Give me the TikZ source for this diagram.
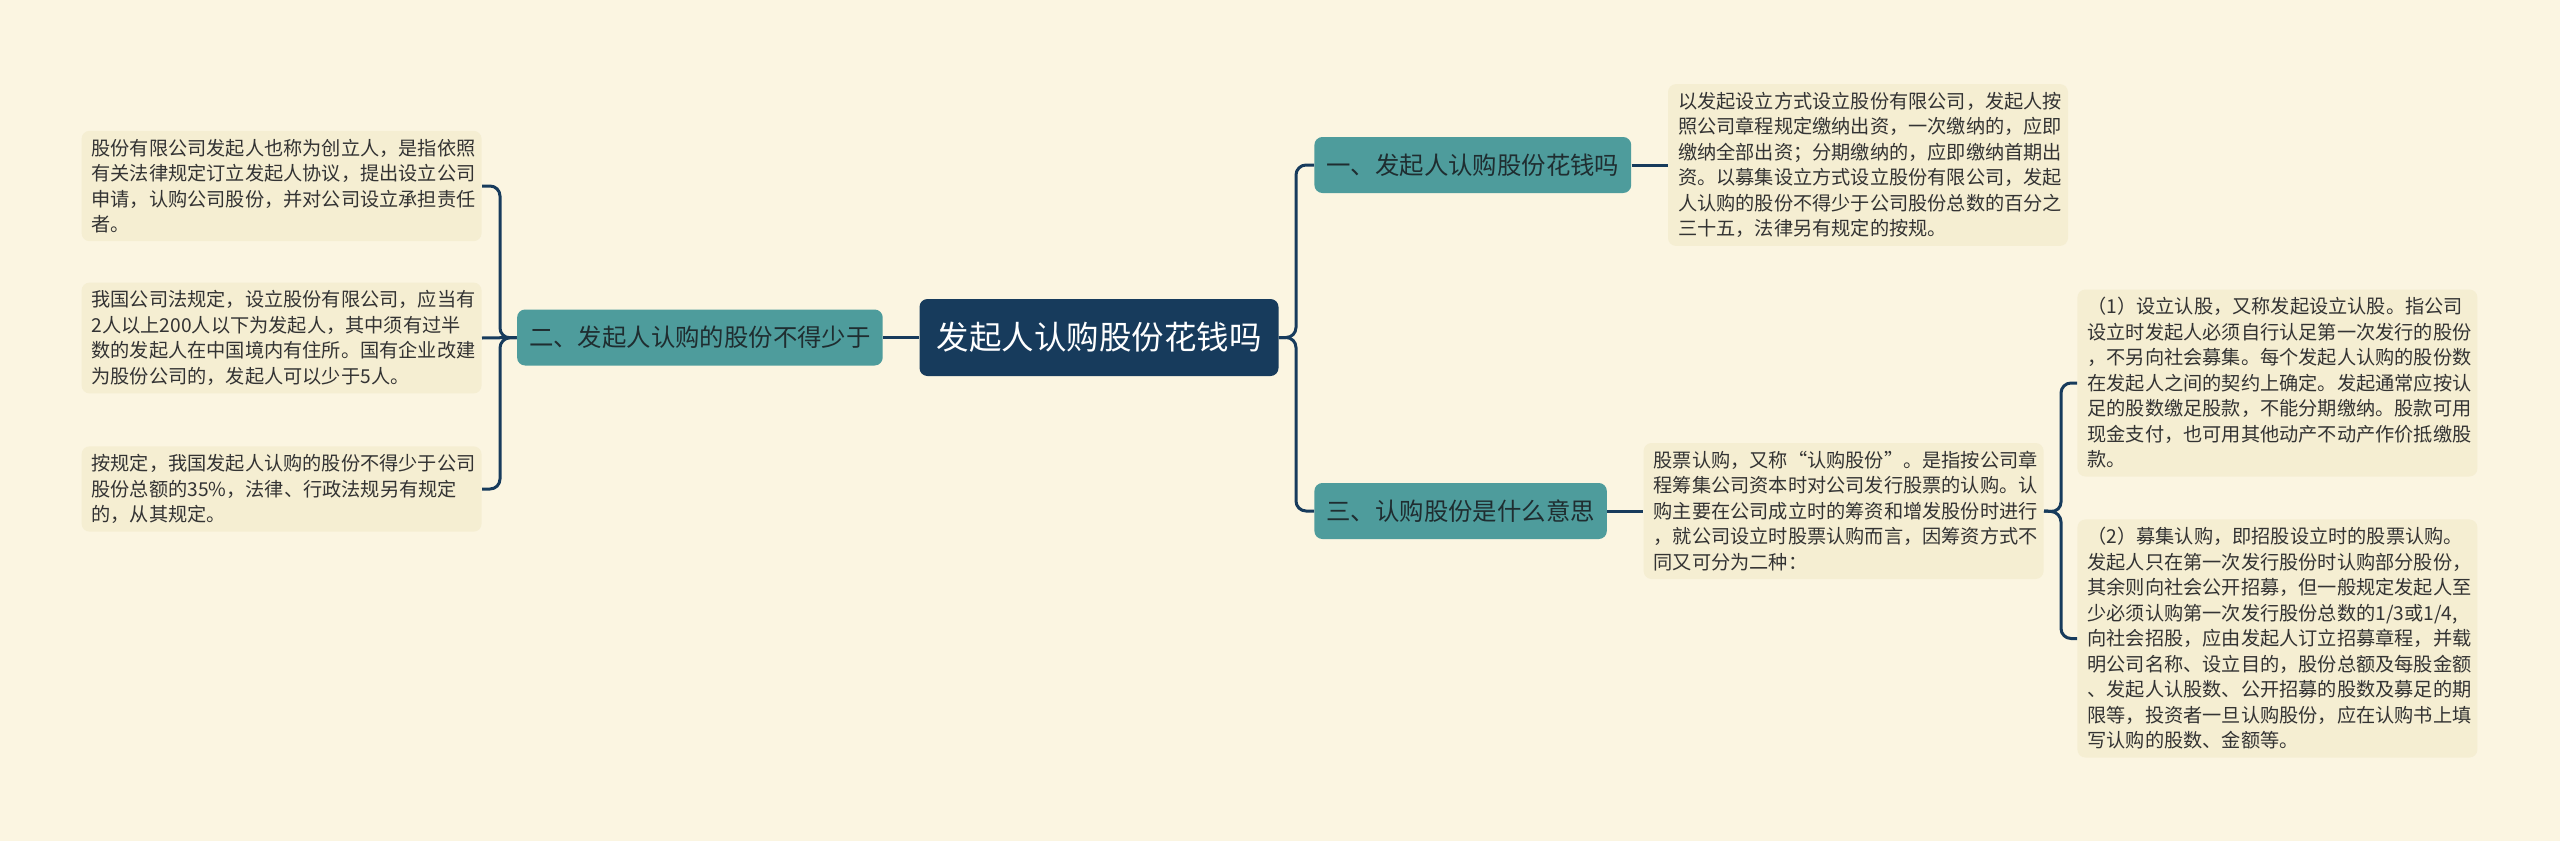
\documentclass[tikz,border=0pt]{standalone}
\usepackage{fontspec}
\setmainfont{Noto Sans CJK SC}
\usepackage{xcolor}
\definecolor{mmbg}{HTML}{FBF5E1}
\definecolor{mmleaf}{HTML}{F5EED2}
\definecolor{mmteal}{HTML}{4E9C9C}
\definecolor{mmnavy}{HTML}{173B5C}
\definecolor{mmink}{HTML}{333333}
\definecolor{mmdark}{HTML}{1F2D30}
\usepackage{tikz}
\usetikzlibrary{positioning}

\begin{document}
\begin{tikzpicture}[x=0.5pt, y=-0.5pt,
  rootnode/.style={fill=mmnavy, text=white, rounded corners=4pt,
                   minimum height=38.5pt, inner xsep=8.5pt,
                   font=\fontsize{16.25pt}{19pt}\selectfont},
  branch/.style={fill=mmteal, text=mmdark, rounded corners=4pt,
                 minimum height=28pt, inner xsep=6pt,
                 font=\fontsize{12.2pt}{15pt}\selectfont},
  leaf/.style={fill=mmleaf, text=mmink, rounded corners=4pt,
               text width=190pt, inner xsep=5pt, inner ysep=4pt, align=left,
               font=\fontsize{9.6pt}{12.75pt}\selectfont},
  conn/.style={draw=mmnavy, line width=1.5pt, rounded corners=5pt},
  node distance=18pt
]
  \fill[mmbg] (0,0) rectangle (2560,841);

  \node[rootnode] (root) at (1099,337.5) {发起人认购股份花钱吗};
  \node[branch, left=of root] (b2) {二、发起人认购的股份不得少于};
  \node[branch, anchor=west] (b1) at (1314,165) {一、发起人认购股份花钱吗};
  \node[branch, anchor=west] (b3) at (1314,511) {三、认购股份是什么意思};

  \node[leaf, anchor=east] (l1) at (482,186) {股份有限公司发起人也称为创立人，是指依照\\有关法律规定订立发起人协议，提出设立公司\\申请，认购公司股份，并对公司设立承担责任\\者。};
  \node[leaf, anchor=east] (l2) at (482,338) {我国公司法规定，设立股份有限公司，应当有\\2人以上200人以下为发起人，其中须有过半\\数的发起人在中国境内有住所。国有企业改建\\为股份公司的，发起人可以少于5人。};
  \node[leaf, anchor=east] (l3) at (482,489) {按规定，我国发起人认购的股份不得少于公司\\股份总额的35\%，法律、行政法规另有规定\\的，从其规定。};

  \node[leaf, right=of b1] (r1) {以发起设立方式设立股份有限公司，发起人按\\照公司章程规定缴纳出资，一次缴纳的，应即\\缴纳全部出资；分期缴纳的，应即缴纳首期出\\资。以募集设立方式设立股份有限公司，发起\\人认购的股份不得少于公司股份总数的百分之\\三十五，法律另有规定的按规。};
  \node[leaf, right=of b3] (r3) {股票认购，又称“认购股份”。是指按公司章\\程筹集公司资本时对公司发行股票的认购。认\\购主要在公司成立时的筹资和增发股份时进行\\，就公司设立时股票认购而言，因筹资方式不\\同又可分为二种：};
  \node[leaf, anchor=west] (r3a) at (2077,383) {（1）设立认股，又称发起设立认股。指公司\\设立时发起人必须自行认足第一次发行的股份\\，不另向社会募集。每个发起人认购的股份数\\在发起人之间的契约上确定。发起通常应按认\\足的股数缴足股款，不能分期缴纳。股款可用\\现金支付，也可用其他动产不动产作价抵缴股\\款。};
  \node[leaf, anchor=west] (r3b) at (2077,638.5) {（2）募集认购，即招股设立时的股票认购。\\发起人只在第一次发行股份时认购部分股份，\\其余则向社会公开招募，但一般规定发起人至\\少必须认购第一次发行股份总数的1/3或1/4,\\向社会招股，应由发起人订立招募章程，并载\\明公司名称、设立目的，股份总额及每股金额\\、发起人认股数、公开招募的股数及募足的期\\限等，投资者一旦认购股份，应在认购书上填\\写认购的股数、金额等。};

  \coordinate (ltrunk) at (500,338);
  \coordinate (rtrunk) at (1296,337.5);
  \coordinate (strunk) at (2061,512);

  \draw[conn] (root.west) -- (b2.east);
  \draw[conn] (b2.west) -- (ltrunk) |- (l1.east);
  \draw[conn] (b2.west) -- (l2.east);
  \draw[conn] (b2.west) -- (ltrunk) |- (l3.east);
  \draw[conn] (root.east) -- (rtrunk) |- (b1.west);
  \draw[conn] (root.east) -- (rtrunk) |- (b3.west);
  \draw[conn] (b1.east) -- (r1.west);
  \draw[conn] (b3.east) -- (r3.west);
  \draw[conn] (r3.east) -- (strunk) |- (r3a.west);
  \draw[conn] (r3.east) -- (strunk) |- (r3b.west);
\end{tikzpicture}
\end{document}
